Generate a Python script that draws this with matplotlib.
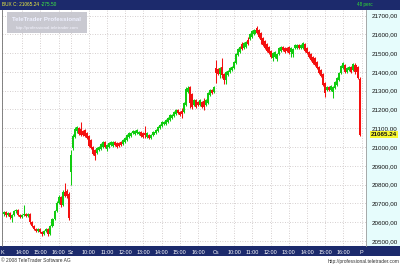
import numpy as np
import matplotlib
matplotlib.use("Agg")
import matplotlib.pyplot as plt
from matplotlib.patches import Rectangle
from matplotlib.lines import Line2D
from matplotlib import font_manager as fm

# ---------------- data (BUX index, 3 1/2 trading days) ----------------
tue_open = [20644,20654,20638,20649,20622,20638,20660,20665,20638,20628,20638,20644,20633,20644,20601,20580,20564,20553,20564,20548,20537,20553,20564,20537,20580,20617,20660,20702,20734,20692,20761,20766,20750]
tue_close = [20654,20638,20649,20628,20638,20660,20665,20638,20628,20638,20644,20633,20644,20601,20580,20564,20553,20564,20548,20537,20553,20564,20537,20580,20617,20660,20702,20734,20692,20761,20740,20740,20622]
tue_high = [20660,20660,20654,20654,20644,20665,20670,20670,20644,20644,20692,20649,20649,20649,20606,20585,20569,20569,20569,20553,20558,20569,20569,20585,20622,20665,20713,20745,20740,20772,20809,20777,20761]
tue_low = [20633,20628,20633,20617,20601,20633,20649,20633,20622,20622,20633,20628,20628,20590,20574,20558,20548,20548,20542,20526,20532,20548,20526,20532,20574,20612,20654,20697,20681,20686,20734,20729,20612]

wed_open = [20868,20996,21054,21086,21102,21097,21086,21092,21076,21060,21038,21001,20985,20969,20985,20990,21001,21028,20990,21001,21012,21006,21028,21022,21022,21028,21017,21028,21038,21054,21060,21076,21070,21076,21070,21081,21076,21076,21054,21065,21049,21065,21076,21086,21102,21113,21124,21124,21134,21145,21156,21166,21177,21198,21188,21193,21188,21225,21294,21321,21284,21225,21252,21241,21225,21241,21246,21225,21236,21278,21305,21294]
wed_close = [20958,21060,21097,21108,21070,21065,21065,21060,21049,21006,20996,20964,20953,20996,21001,21017,21028,21001,21012,21022,21028,21028,21012,21001,21006,21012,21038,21049,21065,21076,21076,21086,21086,21092,21081,21060,21054,21065,21076,21049,21065,21081,21092,21108,21118,21134,21134,21145,21156,21172,21172,21188,21198,21182,21172,21177,21236,21310,21316,21236,21214,21252,21214,21225,21252,21214,21214,21252,21289,21305,21289,21321]
wed_high = [20985,21070,21108,21113,21108,21134,21092,21097,21081,21065,21044,21006,20990,21001,21006,21022,21033,21033,21017,21028,21033,21033,21033,21028,21028,21033,21044,21054,21070,21081,21081,21092,21092,21097,21086,21086,21081,21113,21081,21070,21070,21086,21097,21113,21124,21140,21140,21150,21161,21177,21177,21193,21204,21204,21193,21209,21241,21321,21326,21326,21289,21257,21257,21246,21257,21246,21262,21257,21294,21310,21310,21326]
wed_low = [20798,20985,21049,21076,21065,21060,21060,21054,21044,21001,20990,20958,20932,20964,20980,20985,20996,20996,20980,20996,21006,21001,21006,20996,21001,21006,21012,21022,21033,21049,21054,21070,21065,21070,21065,21054,21049,21049,21049,21044,21044,21060,21070,21081,21097,21108,21118,21118,21129,21140,21150,21161,21172,21177,21166,21156,21182,21220,21289,21209,21204,21220,21209,21220,21220,21209,21198,21220,21230,21273,21284,21289]

thu_open = [21422,21417,21390,21428,21390,21358,21385,21401,21412,21422,21449,21492,21508,21550,21529,21534,21572,21577,21588,21604,21636,21625,21609,21582,21566,21550,21534,21513,21476,21481,21470,21497,21513,21534,21529,21529,21534,21508,21497,21529,21529,21545,21529,21529,21550,21529,21508,21497,21481,21476,21454,21428,21412,21390,21342,21305,21321,21305,21294,21316,21332,21358,21396,21422,21438,21401,21412,21428,21412,21438,21428]
thu_close = [21396,21390,21422,21385,21358,21401,21406,21422,21428,21454,21497,21524,21534,21524,21556,21561,21550,21604,21620,21625,21609,21588,21572,21545,21529,21513,21502,21481,21502,21508,21497,21529,21534,21518,21508,21513,21502,21529,21524,21545,21545,21529,21545,21556,21513,21502,21481,21465,21449,21438,21422,21396,21380,21332,21289,21321,21305,21326,21321,21348,21369,21396,21433,21449,21401,21422,21428,21401,21444,21401,21369]
thu_high = [21465,21422,21428,21476,21396,21406,21412,21428,21433,21460,21502,21529,21540,21561,21561,21566,21588,21609,21625,21630,21646,21630,21614,21588,21572,21556,21540,21518,21508,21513,21502,21534,21540,21540,21534,21534,21540,21534,21529,21550,21550,21550,21550,21561,21556,21534,21513,21502,21486,21481,21460,21433,21417,21396,21348,21326,21326,21332,21326,21353,21374,21401,21438,21454,21444,21428,21433,21433,21449,21449,21433]
thu_low = [21342,21385,21369,21369,21337,21337,21380,21396,21406,21417,21444,21486,21502,21518,21524,21529,21545,21572,21582,21598,21604,21582,21550,21540,21524,21508,21497,21476,21460,21476,21460,21492,21508,21513,21502,21508,21497,21481,21481,21524,21524,21524,21524,21524,21508,21497,21476,21460,21444,21433,21417,21390,21374,21326,21268,21300,21300,21300,21262,21310,21326,21353,21390,21417,21396,21396,21406,21396,21406,21390,21364]

fri_open = [21364]
fri_close = [21065.24]
fri_high = [21374]
fri_low = [21060]

last_price = 21065.24
change = -275.50
symbol = "BUX"
volume_label = "48 perc"

price_ticks = [20500, 20600, 20700, 20800, 20900, 21000, 21100, 21200,
               21300, 21400, 21500, 21600, 21700]
time_tick_pos = [0, 10, 19, 28, 34, 43, 52, 61, 70, 79, 88, 97, 106,
                 115, 124, 133, 142, 151, 160, 169, 178]
time_tick_labels = ["K", "14:00", "15:00", "16:00", "Sz", "10:00", "11:00",
                    "12:00", "13:00", "14:00", "15:00", "16:00", "Cs",
                    "10:00", "11:00", "12:00", "13:00", "14:00", "15:00",
                    "16:00", "P"]

opens = np.array(tue_open + wed_open + thu_open + fri_open, float)
closes = np.array(tue_close + wed_close + thu_close + fri_close, float)
highs = np.array(tue_high + wed_high + thu_high + fri_high, float)
lows = np.array(tue_low + wed_low + thu_low + fri_low, float)
xs = np.arange(1, len(opens) + 1)

# ---------------- fonts ----------------
def pick(names):
    for n in names:
        try:
            fm.findfont(fm.FontProperties(family=n), fallback_to_default=False)
            return n
        except Exception:
            pass
    return "DejaVu Sans"

SANS = pick(["Liberation Sans", "DejaVu Sans"])

# ---------------- figure ----------------
W, H = 400, 266
fig = plt.figure(figsize=(W / 100, H / 100), dpi=100)
fig.patch.set_facecolor("white")

def fx(px):
    return px / W

def fy(py):
    return 1 - py / H

NAVY = "#1c2a6c"
GREEN = "#10cc10"
RED = "#f41010"

# top bar
fig.add_artist(Rectangle((0, fy(9.5)), 1, 9.5 / H, transform=fig.transFigure,
                         facecolor=NAVY, edgecolor="none", zorder=0))
# bottom bar
fig.add_artist(Rectangle((0, fy(256)), 1, 10 / H, transform=fig.transFigure,
                         facecolor=NAVY, edgecolor="none", zorder=0))
# right price panel
fig.add_artist(Rectangle((fx(366), fy(246)), fx(34), 236.5 / H, transform=fig.transFigure,
                         facecolor="#e6fcfc", edgecolor="none", zorder=0))
fig.add_artist(Line2D([fx(366), fx(366)], [fy(246), fy(9.5)], transform=fig.transFigure,
                      color="#9a9a9a", lw=0.6))

ax = fig.add_axes([fx(2), fy(246), fx(364), 236.5 / H])
ax.set_facecolor("white")
ax.set_xlim(0, 180.2)
ax.set_ylim(20473, 21732)

# grid
ax.set_yticks(price_ticks)
ax.set_xticks(time_tick_pos)
ax.grid(True, color="#c8c0c0", linestyle=(0, (1, 2)), linewidth=0.6)
ax.set_axisbelow(True)

# candles
up = closes >= opens
cols = np.where(up, GREEN, RED)
ax.vlines(xs, lows, highs, colors=cols, linewidth=0.75, zorder=2)
body = np.maximum(np.abs(closes - opens), 5)
ax.bar(xs, body, bottom=np.minimum(opens, closes), width=1.0, color=cols,
       linewidth=0, zorder=3)

# axes styling
for s in ax.spines.values():
    s.set_visible(False)
ax.spines["left"].set_visible(True)
ax.spines["left"].set_color("#707070")
ax.spines["left"].set_linewidth(0.6)

ax.yaxis.tick_right()
ax.set_yticklabels([f"{v:.2f}".replace(".", ",") for v in price_ticks],
                   fontsize=4.5, family=SANS, color="#111111")
ax.tick_params(axis="y", length=0, pad=4)
for lab in ax.get_yticklabels():
    lab.set_horizontalalignment("left")

ax.set_xticklabels(time_tick_labels, fontsize=3.9, family=SANS, color="white")
ax.tick_params(axis="x", length=0, pad=2.6)

# last price marker
ax.annotate(f"{last_price:.2f}", xy=(1.0, last_price), xycoords=("axes fraction", "data"),
            xytext=(3.5, 0), textcoords="offset points", ha="left", va="center",
            fontsize=4.5, family=SANS, fontweight="bold", color="#111111",
            bbox=dict(boxstyle="square,pad=0.15", fc="#f8f830", ec="none"),
            annotation_clip=False, zorder=10)

# header texts
fig.text(fx(2.5), fy(4.8), f"{symbol} C: {last_price:.2f}", color="#f0f040",
         fontsize=3.4, family=SANS, va="center", ha="left")
fig.text(fx(41), fy(4.8), f"{change:.2f}", color="#40f040",
         fontsize=3.4, family=SANS, va="center", ha="left")
fig.text(fx(365), fy(4.8), volume_label, color="#30e030",
         fontsize=3.3, family=SANS, va="center", ha="center")

# watermark box
fig.add_artist(Rectangle((fx(7), fy(33)), fx(80), 21 / H, transform=fig.transFigure,
                         facecolor="#c4c4cc", edgecolor="none", alpha=0.9, zorder=5))
fig.text(fx(47), fy(19.5), "TeleTrader Professional", color="#eef0ff",
         fontsize=4.4, family=SANS, fontweight="bold", va="center", ha="center", zorder=6)
fig.text(fx(47), fy(27.5), "http://professional.teletrader.com", color="#f4f4ff",
         fontsize=3.2, family=SANS, va="center", ha="center", zorder=6)

# footer
fig.text(fx(1), fy(261), "\u00a9 2008 TeleTrader Software AG", color="#333333",
         fontsize=3.5, family=SANS, va="center", ha="left")
fig.text(fx(399), fy(261), "http://professional.teletrader.com", color="#333333",
         fontsize=3.5, family=SANS, va="center", ha="right")

fig.savefig("out.png", dpi=100, facecolor=fig.get_facecolor())
